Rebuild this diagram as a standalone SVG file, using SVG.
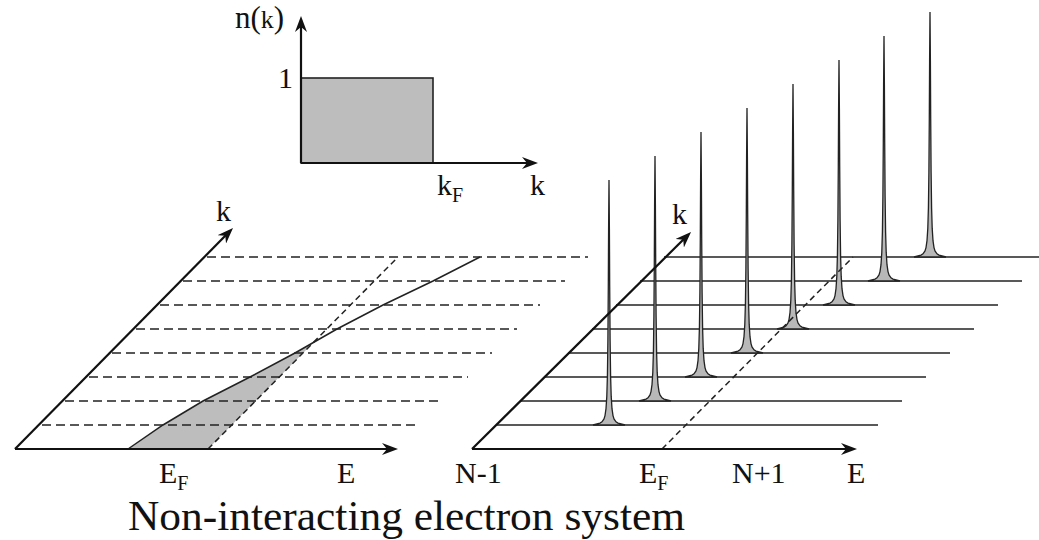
<svg xmlns="http://www.w3.org/2000/svg" xmlns:xlink="http://www.w3.org/1999/xlink" width="1039" height="540" viewBox="0 0 1039 540">
<style>
.ax{stroke:#111;stroke-width:2.2;fill:none}
.sl{stroke:#222;stroke-width:1.5;fill:none}
.dl{stroke:#222;stroke-width:1.6;fill:none;stroke-dasharray:9 5}
.df{stroke:#222;stroke-width:1.5;fill:none;stroke-dasharray:6 4}
.sh{fill:#bdbdbd}
.pk{fill:#b8b8b8;stroke:#222;stroke-width:1.3;stroke-linejoin:miter}
text{font-family:"Liberation Serif","Times New Roman",serif;fill:#111}
.lb{font-size:30px}
.sb{font-size:20px}
.tt{font-size:43px}
</style>
<defs>
<marker id="arr" viewBox="0 0 16 12" refX="12" refY="6" markerWidth="16" markerHeight="12" orient="auto" markerUnits="userSpaceOnUse">
<path d="M0,0 L16,6 L0,12 L5,6 Z" fill="#111"/>
</marker>
<path id="peak" d="M-16,0 L-12,-1.1 L-9,-1.9 L-7,-3.2 L-5,-6.1 L-4,-9.4 L-3,-16.3 L-2.2,-28.6 L-1.6,-49 L-1.1,-84.8 L-0.7,-138.8 L-0.4,-196 L0,-245 L0.4,-196 L0.7,-138.8 L1.1,-84.8 L1.6,-49 L2.2,-28.6 L3,-16.3 L4,-9.4 L5,-6.1 L7,-3.2 L9,-1.9 L12,-1.1 L16,0 Z"/>
</defs>
<rect width="1039" height="540" fill="#fff"/>

<g id="inset">
<rect x="301" y="78" width="132" height="85" fill="#bdbdbd" stroke="#222" stroke-width="1.6"/>
<line class="ax" x1="301" y1="163" x2="301" y2="20" marker-end="url(#arr)"/>
<line class="ax" x1="301" y1="163" x2="534" y2="163" marker-end="url(#arr)"/>
<text x="235" y="28" font-size="31">n(<tspan font-size="26">k</tspan>)</text>
<text class="lb" x="278" y="88">1</text>
<text class="lb" x="437" y="195">k<tspan class="sb" dy="7">F</tspan></text>
<text class="lb" x="530" y="195">k</text>
</g>

<g id="left-panel">
<polygon class="sh" points="128,449 163,425 203,401 250,377 295,353 313.5,342.4 208,449"/>
<g id="left-dashed">
<line class="dl" x1="42" y1="425" x2="419" y2="425"/>
<line class="dl" x1="65" y1="401" x2="443" y2="401"/>
<line class="dl" x1="89" y1="377" x2="468" y2="377"/>
<line class="dl" x1="112" y1="353" x2="492" y2="353"/>
<line class="dl" x1="136" y1="329" x2="517" y2="329"/>
<line class="dl" x1="160" y1="305" x2="540" y2="305"/>
<line class="dl" x1="183" y1="281" x2="565" y2="281"/>
<line class="dl" x1="207" y1="257" x2="588" y2="257"/>
</g>
<polyline class="sl" points="128,449 163,425 203,401 250,377 295,353 337,329 383,305 433,281 480,257"/>
<line class="df" x1="208" y1="449" x2="398" y2="257"/>
<line class="ax" x1="15" y1="449" x2="394" y2="449" marker-end="url(#arr)"/>
<line class="ax" x1="15" y1="449" x2="230.2" y2="230.8" marker-end="url(#arr)"/>
<text class="lb" x="216" y="221">k</text>
<text class="lb" x="159" y="483">E<tspan class="sb" dy="7">F</tspan></text>
<text class="lb" x="337" y="483">E</text>
</g>

<g id="right-panel">
<g id="rows">
<line class="sl" x1="664" y1="257" x2="1046" y2="257"/><use href="#peak" xlink:href="#peak" class="pk" x="930" y="257"/>
<line class="sl" x1="640" y1="281" x2="1022" y2="281"/><use href="#peak" xlink:href="#peak" class="pk" x="884" y="281"/>
<line class="sl" x1="616" y1="305" x2="998" y2="305"/><use href="#peak" xlink:href="#peak" class="pk" x="839" y="305"/>
<line class="sl" x1="592" y1="329" x2="974" y2="329"/><use href="#peak" xlink:href="#peak" class="pk" x="793" y="329"/>
<line class="sl" x1="568" y1="353" x2="950" y2="353"/><use href="#peak" xlink:href="#peak" class="pk" x="747" y="353"/>
<line class="sl" x1="544" y1="377" x2="926" y2="377"/><use href="#peak" xlink:href="#peak" class="pk" x="701" y="377"/>
<line class="sl" x1="520" y1="401" x2="902" y2="401"/><use href="#peak" xlink:href="#peak" class="pk" x="655" y="401"/>
<line class="sl" x1="496" y1="425" x2="878" y2="425"/><use href="#peak" xlink:href="#peak" class="pk" x="609" y="425"/>
</g>
<line class="df" x1="662" y1="449" x2="853" y2="257"/>
<line class="ax" x1="472" y1="449" x2="853" y2="449" marker-end="url(#arr)"/>
<line class="ax" x1="472" y1="449" x2="688.2" y2="234.8" marker-end="url(#arr)"/>
<text class="lb" x="672" y="224">k</text>
<text class="lb" x="455" y="483">N-1</text>
<text class="lb" x="639" y="483">E<tspan class="sb" dy="7">F</tspan></text>
<text class="lb" x="732" y="483">N+1</text>
<text class="lb" x="847" y="483">E</text>
</g>

<g id="title">
<text class="tt" x="128" y="530" textLength="557" lengthAdjust="spacingAndGlyphs">Non-interacting electron system</text>
</g>
</svg>
